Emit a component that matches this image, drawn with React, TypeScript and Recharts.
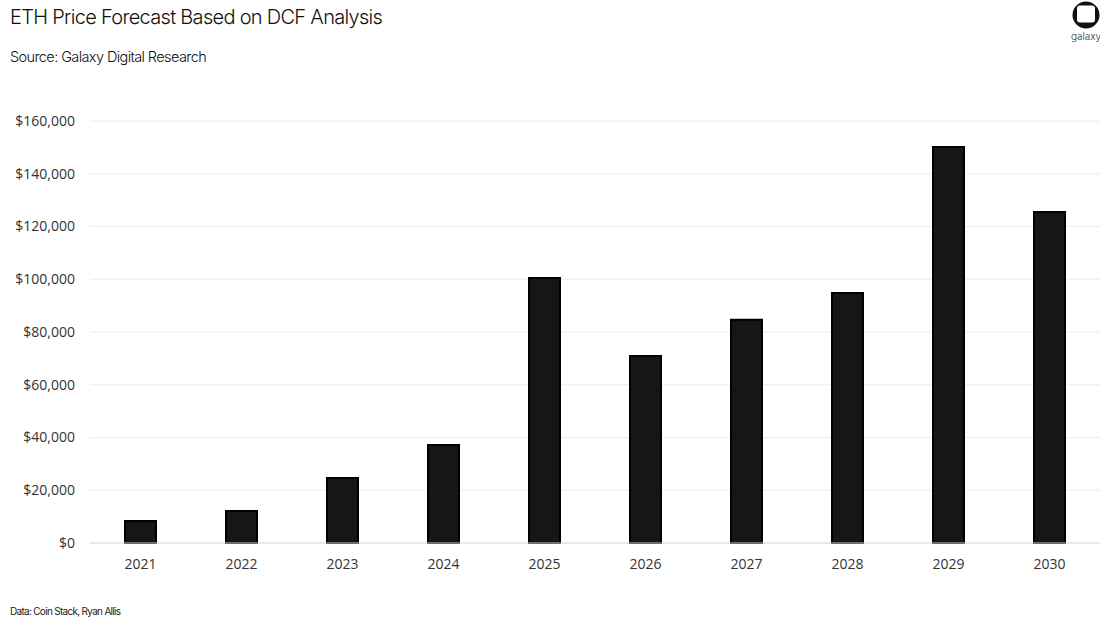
import React from 'react';
import { BarChart, Bar, XAxis, YAxis, CartesianGrid } from 'recharts';

const years = ['2021', '2022', '2023', '2024', '2025', '2026', '2027', '2028', '2029', '2030'];
const prices = [8300, 12100, 24600, 37200, 100500, 70900, 84600, 94800, 150100, 125500];
const yTicks = [0, 20000, 40000, 60000, 80000, 100000, 120000, 140000, 160000];

const data = years.map((year, i) => ({ year, price: prices[i] }));

const formatUsd = (v: number) => `$${v.toLocaleString('en-US')}`;

const Logo = () => (
  <div style={{ position: 'absolute', top: 0, left: 1066, width: 40, textAlign: 'center' }}>
    <svg width="28" height="30" viewBox="0 0 28 30" style={{ display: 'block', margin: '1px auto 0' }}>
      <circle cx="14" cy="14" r="13.5" fill="#111" />
      <rect x="5" y="4.5" width="18" height="17" rx="3" fill="#fff" />
    </svg>
    <div style={{ fontSize: 10, color: '#333', fontFamily: 'Inter, sans-serif', marginTop: -1, fontWeight: 300 }}>galaxy</div>
  </div>
);

const App: React.FC = () => {
  return (
    <div
      style={{
        position: 'absolute',
        top: 0,
        left: 0,
        width: 1100,
        height: 641,
        background: '#fff',
        fontFamily: 'Inter, sans-serif',
      }}
    >
      <div style={{ position: 'absolute', left: 10, top: 5, fontSize: 20, color: '#111', letterSpacing: -0.7, fontWeight: 300 }}>
        ETH Price Forecast Based on DCF Analysis
      </div>
      <div style={{ position: 'absolute', left: 10, top: 48, fontSize: 14.5, color: '#111', letterSpacing: -0.6, fontWeight: 300 }}>
        Source: Galaxy Digital Research
      </div>
      <Logo />
      <div style={{ position: 'absolute', left: 0, top: 0 }}>
        <BarChart width={1100} height={641} data={data} margin={{ top: 121, right: 0, bottom: 68, left: 0 }}>
          <CartesianGrid vertical={false} stroke="#ececec" />
          <XAxis
            dataKey="year"
            height={30}
            axisLine={{ stroke: '#dcdcdc' }}
            tickLine={false}
            tickMargin={10}
            tick={{ fontSize: 14, fill: '#333', fontFamily: '"Open Sans", sans-serif' }}
          />
          <YAxis
            width={90}
            domain={[0, 160000]}
            ticks={yTicks}
            axisLine={false}
            tickLine={false}
            tickSize={0}
            tickMargin={15}
            tickFormatter={formatUsd}
            tick={{ fontSize: 14, fill: '#333', fontFamily: '"Open Sans", sans-serif' }}
          />
          <Bar dataKey="price" fill="#161616" stroke="#000" strokeWidth={2} barSize={31} isAnimationActive={false} />
        </BarChart>
      </div>
      <div style={{ position: 'absolute', left: 10, top: 605, fontSize: 10, color: '#222', letterSpacing: -0.7 }}>
        Data: Coin Stack, Ryan Allis
      </div>
    </div>
  );
};

export default App;
